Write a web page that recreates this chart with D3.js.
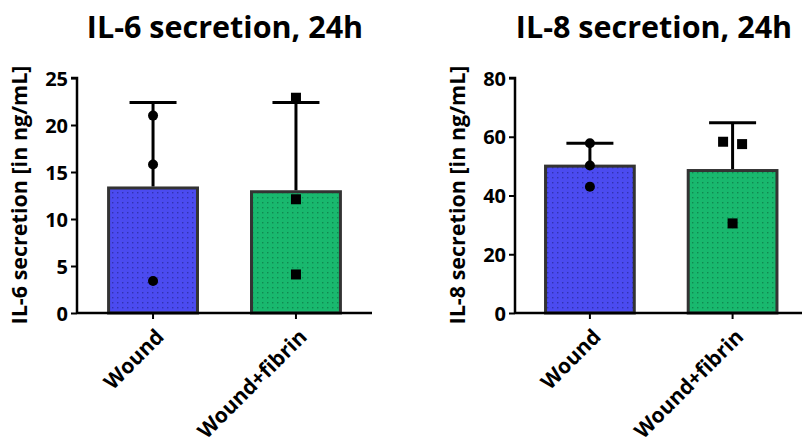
<!DOCTYPE html>
<html><head><meta charset="utf-8">
<script src="https://cdn.jsdelivr.net/npm/d3@7"></script>
<style>body{margin:0;background:#fff}svg{display:block}text{font-family:"Open Sans",sans-serif;font-weight:bold;fill:#000}</style>
</head><body><svg id="c" width="802" height="444"></svg>
<script>
const categories = ["Wound", "Wound+fibrin"];
const il6Means = [13.3, 12.9];
const il6Upper = [22.4, 22.4];
const il6Points = [[21.0, 15.8, 3.4], [22.9, 12.1, 4.1]];
const il6Ticks = [0, 5, 10, 15, 20, 25];
const il8Means = [50.0, 48.5];
const il8Upper = [57.8, 64.8];
const il8Points = [[57.8, 50.2, 43.0], [58.3, 57.5, 30.5]];
const il8Ticks = [0, 20, 40, 60, 80];
const barColors = ["#4b4bf0", "#19b86e"];
const dotColors = ["#3232b0", "#0f8a50"];

const svg = d3.select("#c");
const defs = svg.append("defs");
barColors.forEach((c, i) => {
  const p = defs.append("pattern").attr("id", "pat" + i).attr("width", 5).attr("height", 5)
    .attr("patternUnits", "userSpaceOnUse");
  p.append("rect").attr("width", 5).attr("height", 5).attr("fill", c);
  p.append("rect").attr("x", 2).attr("y", 2).attr("width", 1.4).attr("height", 1.4).attr("fill", dotColors[i]);
});

function panel(cfg) {
  const g = svg.append("g");
  const y = d3.scaleLinear().domain([0, cfg.max]).range([313, 78]);
  const x = d3.scaleBand().domain(categories).range(cfg.xr).paddingInner(0.378).paddingOuter(0.2);
  categories.forEach((c, i) => {
    g.append("rect").attr("x", x(c)).attr("y", y(cfg.means[i])).attr("width", x.bandwidth())
      .attr("height", y(0) - y(cfg.means[i])).attr("fill", `url(#pat${i})`)
      .attr("stroke", "#333").attr("stroke-width", 3);
  });
  categories.forEach((c, i) => {
    const cx = x(c) + x.bandwidth() / 2;
    g.append("line").attr("x1", cx).attr("x2", cx).attr("y1", y(cfg.means[i]) - 1.5).attr("y2", y(cfg.upper[i]))
      .attr("stroke", "#000").attr("stroke-width", 3);
    g.append("line").attr("x1", cx - 23.5).attr("x2", cx + 23.5).attr("y1", y(cfg.upper[i])).attr("y2", y(cfg.upper[i]))
      .attr("stroke", "#000").attr("stroke-width", 3);
  });
  categories.forEach((c, i) => {
    const cx = x(c) + x.bandwidth() / 2;
    cfg.points[i].forEach((v, j) => {
      const off = cfg.offsets ? cfg.offsets[i][j] : 0;
      if (i === 0) {
        g.append("circle").attr("cx", cx + off).attr("cy", y(v)).attr("r", 5).attr("fill", "#000");
      } else {
        g.append("rect").attr("x", cx + off - 5).attr("y", y(v) - 5).attr("width", 10).attr("height", 10).attr("fill", "#000");
      }
    });
  });
  const ya = g.append("g").attr("transform", `translate(${cfg.x0},0)`)
    .call(d3.axisLeft(y).tickValues(cfg.ticks).tickSize(6).tickPadding(3));
  ya.select(".domain").attr("stroke-width", 2.5).attr("d", `M-6,${y(cfg.max)}H0V${y(0)}`);
  ya.selectAll(".tick line").attr("stroke-width", 2);
  ya.selectAll("text").style("font-size", "20px").attr("dy", "0.36em");
  const xa = g.append("g").attr("transform", `translate(0,${y(0)})`)
    .call(d3.axisBottom(x).tickSize(6).tickSizeOuter(0));
  xa.select(".domain").attr("stroke-width", 2.5).attr("d", `M${cfg.x0},0H${cfg.xEnd}`);
  xa.selectAll(".tick line").attr("stroke-width", 2);
  xa.selectAll("text").style("font-size", "21px").attr("text-anchor", "end")
    .attr("transform", "translate(7,20) rotate(-45)").attr("dy", "0.35em").attr("y", 0).attr("x", 0);
  svg.append("text").attr("x", cfg.titleX).attr("y", 38).attr("text-anchor", "middle")
    .style("font-size", "30.5px").text(cfg.title);
  svg.append("text").attr("transform", `translate(${cfg.x0 - 50},195) rotate(-90)`).attr("text-anchor", "middle")
    .style("font-size", "21.5px").text(cfg.ylabel);
}

panel({x0: 77, xEnd: 372, xr: [80, 369], max: 25, means: il6Means, upper: il6Upper, points: il6Points, ticks: il6Ticks,
  title: "IL-6 secretion, 24h", titleX: 225, ylabel: "IL-6 secretion [in ng/mL]"});
panel({x0: 515, xEnd: 802, xr: [517, 805.5], max: 80, means: il8Means, upper: il8Upper, points: il8Points, ticks: il8Ticks,
  offsets: [[0, 0, 0], [-9.5, 9.5, 0]],
  title: "IL-8 secretion, 24h", titleX: 654, ylabel: "IL-8 secretion [in ng/mL]"});
</script></body></html>
